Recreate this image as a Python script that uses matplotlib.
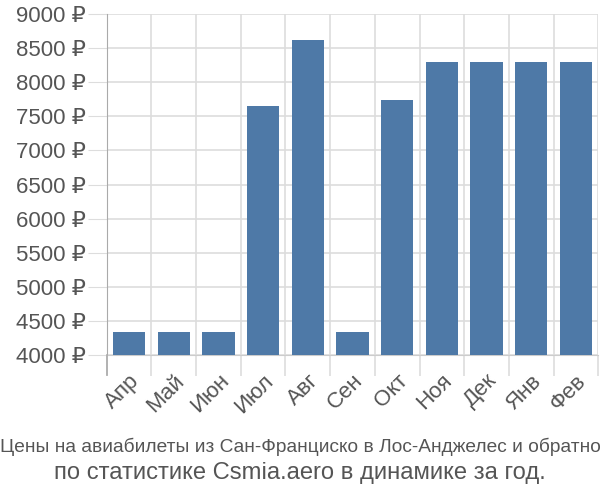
import numpy as np
import matplotlib.pyplot as plt
from matplotlib.ticker import FixedLocator, FuncFormatter

months = ['Апр', 'Май', 'Июн', 'Июл', 'Авг', 'Сен', 'Окт', 'Ноя', 'Дек', 'Янв', 'Фев']
prices = [4340, 4340, 4340, 7650, 8620, 4340, 7740, 8290, 8290, 8290, 8290]
y_ticks = [4000, 4500, 5000, 5500, 6000, 6500, 7000, 7500, 8000, 8500, 9000]
title_1 = 'Цены на авиабилеты из Сан-Франциско в Лос-Анджелес и обратно'
title_2 = 'по статистике Csmia.aero в динамике за год.'

plt.rcParams['font.family'] = ['Liberation Sans', 'DejaVu Sans']
text_color = '#555555'
grid_color = '#dddddd'

fig = plt.figure(figsize=(6, 5), dpi=100)
ax = fig.add_axes([0.178, 0.29, 0.819, 0.682])

x = np.arange(len(months))
ax.bar(x, prices, width=0.72, color='#4e79a7', zorder=3)

ax.set_xlim(-0.5, len(months) - 0.5)
ax.set_ylim(4000, 9000)

ax.yaxis.set_major_locator(FixedLocator(y_ticks))
ax.yaxis.set_major_formatter(FuncFormatter(lambda v, p: f'{int(v)} ₽'))
ax.tick_params(axis='y', length=14, color=grid_color, labelsize=16,
               labelcolor=text_color, pad=1)

ax.set_xticks(x)
ax.set_xticklabels(months, rotation=45, ha='right', rotation_mode='anchor')
ax.xaxis.set_minor_locator(FixedLocator(np.arange(-0.5, len(months), 1)))
ax.tick_params(axis='x', which='major', length=0, labelsize=16,
               labelcolor=text_color, pad=11)
ax.tick_params(axis='x', which='minor', length=15, color=grid_color, width=1.2)

ax.grid(axis='y', color=grid_color, linewidth=1.2, zorder=0)
ax.grid(axis='x', which='minor', color=grid_color, linewidth=1.2, zorder=0)

for side in ['top', 'right']:
    ax.spines[side].set_visible(False)
ax.spines['bottom'].set_color('#cccccc')
ax.spines['left'].set_color('#aaaaaa')
ax.spines['left'].set_bounds(4000, 9000)
ax.plot([-0.5, -0.5], [4000, 3700], color='#aaaaaa', linewidth=1.2,
        clip_on=False, zorder=4)

fig.text(0.5, 1 - 447 / 500, title_1, ha='center', va='center', fontsize=13.8,
         color=text_color)
fig.text(0.5, 1 - 473 / 500, title_2, ha='center', va='center', fontsize=17.1,
         color=text_color)

fig.savefig('out.png', dpi=100)
